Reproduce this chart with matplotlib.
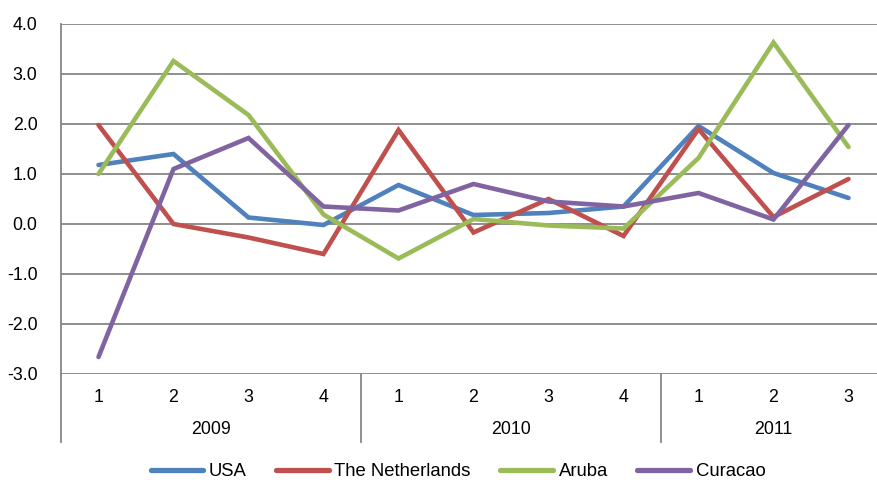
import matplotlib.pyplot as plt
import matplotlib.transforms as mtransforms

plt.rcParams['font.family'] = ['Liberation Sans', 'DejaVu Sans']

years = ['2009', '2010', '2011']
quarters = ['1', '2', '3', '4', '1', '2', '3', '4', '1', '2', '3']
quarters_per_year = [4, 4, 3]

usa = [1.18, 1.40, 0.13, -0.02, 0.78, 0.18, 0.22, 0.35, 1.96, 1.02, 0.52]
netherlands = [1.98, 0.00, -0.27, -0.60, 1.88, -0.17, 0.50, -0.24, 1.90, 0.14, 0.90]
aruba = [1.00, 3.26, 2.18, 0.19, -0.69, 0.10, -0.03, -0.09, 1.32, 3.63, 1.54]
curacao = [-2.66, 1.10, 1.72, 0.35, 0.27, 0.80, 0.45, 0.35, 0.62, 0.09, 1.98]

series = [('USA', usa, '#4F81BD'),
          ('The Netherlands', netherlands, '#C0504D'),
          ('Aruba', aruba, '#9BBB59'),
          ('Curacao', curacao, '#8064A2')]

FS = 12.8
W, H = 878, 480
fig = plt.figure(figsize=(W / 100, H / 100), dpi=100)
ax = fig.add_axes([61 / W, (H - 374) / H, 825 / W, 350 / H])

x = list(range(len(quarters)))
for name, vals, col in series:
    ax.plot(x, vals, color=col, lw=3.3, label=name, solid_joinstyle='miter',
            solid_capstyle='round', zorder=3)

ax.set_xlim(-0.5, len(quarters) - 0.5)
ax.set_ylim(-3, 4)
ax.set_yticks(range(-3, 5))
ax.set_yticklabels(['{:.1f}'.format(v) for v in range(-3, 5)], fontsize=FS)
ax.tick_params(axis='y', length=0, pad=17)
ax.set_xticks([])
ax.grid(axis='y', color='#868686', lw=1.3, zorder=1)
for s in ['top', 'right', 'bottom']:
    ax.spines[s].set_visible(False)
ax.spines['left'].set_color('#868686')
ax.spines['left'].set_linewidth(1.3)

# two-level category axis
trans = mtransforms.blended_transform_factory(ax.transData, ax.transAxes)
for i, q in enumerate(quarters):
    ax.text(i, -23 / 350, q, transform=trans, ha='center', va='center', fontsize=FS)
start = 0
bounds = [start]
for n in quarters_per_year:
    start += n
    bounds.append(start)
for k, yr in enumerate(years):
    mid = (bounds[k] + bounds[k + 1] - 1) / 2
    ax.text(mid, -56 / 350, yr, transform=trans, ha='center', va='center', fontsize=FS)
for b in bounds[:-1]:
    ax.plot([b - 0.5, b - 0.5], [0, -68 / 350], transform=trans, color='#868686',
            lw=1.3, clip_on=False)

leg = fig.legend(loc='center', bbox_to_anchor=(458 / W, 1 - 472 / H), ncol=4, frameon=False,
                 fontsize=13.3, handlelength=2.85, columnspacing=1.6, handletextpad=0.3)
for h in leg.get_lines():
    h.set_linewidth(3.8)

fig.savefig('out.png', dpi=100)
